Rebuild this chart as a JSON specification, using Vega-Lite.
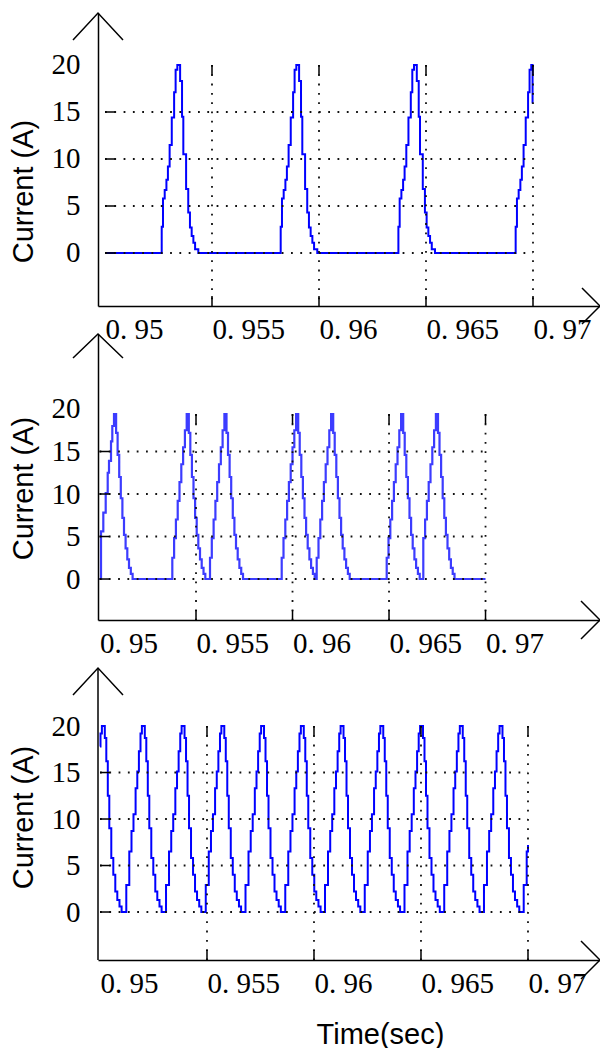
{
"background": "white",
"padding": {"left": 9, "top": 10, "right": 0, "bottom": 0},
"bounds": "flush",
"spacing": 28,
"config": {"view": {"stroke": null}},
"datasets": {
"p1": [
{"t":0.95,"i":0},
{"t":0.95265,"i":2.8},{"t":0.95271,"i":5.8},{"t":0.95279,"i":6.7},{"t":0.95287,"i":7.8},{"t":0.95294,"i":9.2},{"t":0.95302,"i":11.5},{"t":0.95312,"i":14.4},{"t":0.95323,"i":17.1},{"t":0.95330,"i":19.5},{"t":0.95338,"i":20},{"t":0.95351,"i":18.3},{"t":0.95360,"i":14.5},{"t":0.95366,"i":10.5},{"t":0.95379,"i":6.8},{"t":0.95389,"i":4.3},{"t":0.95397,"i":2.7},{"t":0.95405,"i":1.8},{"t":0.95413,"i":1.1},{"t":0.95421,"i":0.4},{"t":0.95436,"i":0},
{"t":0.95821,"i":2.8},{"t":0.95827,"i":5.8},{"t":0.95835,"i":6.7},{"t":0.95843,"i":7.8},{"t":0.95850,"i":9.2},{"t":0.95858,"i":11.5},{"t":0.95868,"i":14.4},{"t":0.95879,"i":17.1},{"t":0.95886,"i":19.5},{"t":0.95894,"i":20},{"t":0.95907,"i":18.3},{"t":0.95916,"i":14.5},{"t":0.95922,"i":10.5},{"t":0.95935,"i":6.8},{"t":0.95945,"i":4.3},{"t":0.95953,"i":2.7},{"t":0.95961,"i":1.8},{"t":0.95969,"i":1.1},{"t":0.95977,"i":0.4},{"t":0.95992,"i":0},
{"t":0.96371,"i":2.8},{"t":0.96377,"i":5.8},{"t":0.96385,"i":6.7},{"t":0.96393,"i":7.8},{"t":0.96400,"i":9.2},{"t":0.96408,"i":11.5},{"t":0.96418,"i":14.4},{"t":0.96429,"i":17.1},{"t":0.96436,"i":19.5},{"t":0.96444,"i":20},{"t":0.96457,"i":18.3},{"t":0.96466,"i":14.5},{"t":0.96472,"i":10.5},{"t":0.96485,"i":6.8},{"t":0.96495,"i":4.3},{"t":0.96503,"i":2.7},{"t":0.96511,"i":1.8},{"t":0.96519,"i":1.1},{"t":0.96527,"i":0.4},{"t":0.96542,"i":0},
{"t":0.96919,"i":2.8},{"t":0.96925,"i":5.8},{"t":0.96933,"i":6.7},{"t":0.96941,"i":7.8},{"t":0.96948,"i":9.2},{"t":0.96956,"i":11.5},{"t":0.96966,"i":14.4},{"t":0.96977,"i":17.1},{"t":0.96984,"i":19.5},{"t":0.96992,"i":20},{"t":0.96998,"i":16},{"t":0.97,"i":16}
],
"p2": [
{"t":0.95,"i":0},
{"t":0.950078,"i":5.6},{"t":0.950197,"i":7.8},{"t":0.950321,"i":10.1},{"t":0.950425,"i":12.5},{"t":0.950492,"i":13.9},{"t":0.950596,"i":16.2},{"t":0.950663,"i":18},{"t":0.950751,"i":19.4},{"t":0.950860,"i":17.2},{"t":0.950938,"i":14.6},{"t":0.951021,"i":12.0},{"t":0.951103,"i":9.5},{"t":0.951186,"i":7.2},{"t":0.951269,"i":5.2},{"t":0.951352,"i":3.6},{"t":0.951440,"i":2.3},{"t":0.951528,"i":1.3},{"t":0.951622,"i":0.6},{"t":0.951715,"i":0},
{"t":0.953772,"i":2.5},{"t":0.953865,"i":4.8},{"t":0.953959,"i":7.0},{"t":0.954052,"i":9.2},{"t":0.954145,"i":11.4},{"t":0.954238,"i":13.5},{"t":0.954332,"i":15.5},{"t":0.954425,"i":17.5},{"t":0.954518,"i":19.4},{"t":0.954627,"i":17.2},{"t":0.954705,"i":14.6},{"t":0.954788,"i":12.0},{"t":0.954870,"i":9.5},{"t":0.954953,"i":7.2},{"t":0.955036,"i":5.2},{"t":0.955119,"i":3.6},{"t":0.955207,"i":2.3},{"t":0.955295,"i":1.3},{"t":0.955389,"i":0.6},{"t":0.955482,"i":0},
{"t":0.955725,"i":2.5},{"t":0.955818,"i":4.8},{"t":0.955912,"i":7.0},{"t":0.956005,"i":9.2},{"t":0.956098,"i":11.4},{"t":0.956191,"i":13.5},{"t":0.956285,"i":15.5},{"t":0.956378,"i":17.5},{"t":0.956471,"i":19.4},{"t":0.956580,"i":17.2},{"t":0.956658,"i":14.6},{"t":0.956741,"i":12.0},{"t":0.956823,"i":9.5},{"t":0.956906,"i":7.2},{"t":0.956989,"i":5.2},{"t":0.957072,"i":3.6},{"t":0.957160,"i":2.3},{"t":0.957248,"i":1.3},{"t":0.957342,"i":0.6},{"t":0.957435,"i":0},
{"t":0.959440,"i":2.5},{"t":0.959533,"i":4.8},{"t":0.959627,"i":7.0},{"t":0.959720,"i":9.2},{"t":0.959813,"i":11.4},{"t":0.959906,"i":13.5},{"t":0.960000,"i":15.5},{"t":0.960093,"i":17.5},{"t":0.960186,"i":19.4},{"t":0.960295,"i":17.2},{"t":0.960373,"i":14.6},{"t":0.960456,"i":12.0},{"t":0.960538,"i":9.5},{"t":0.960621,"i":7.2},{"t":0.960704,"i":5.2},{"t":0.960787,"i":3.6},{"t":0.960875,"i":2.3},{"t":0.960963,"i":1.3},{"t":0.961057,"i":0.6},{"t":0.961150,"i":0},
{"t":0.961253,"i":2.5},{"t":0.961346,"i":4.8},{"t":0.961440,"i":7.0},{"t":0.961533,"i":9.2},{"t":0.961626,"i":11.4},{"t":0.961719,"i":13.5},{"t":0.961813,"i":15.5},{"t":0.961906,"i":17.5},{"t":0.961999,"i":19.4},{"t":0.962108,"i":17.2},{"t":0.962186,"i":14.6},{"t":0.962269,"i":12.0},{"t":0.962351,"i":9.5},{"t":0.962434,"i":7.2},{"t":0.962517,"i":5.2},{"t":0.962600,"i":3.6},{"t":0.962688,"i":2.3},{"t":0.962776,"i":1.3},{"t":0.962870,"i":0.6},{"t":0.962963,"i":0},
{"t":0.964880,"i":2.5},{"t":0.964973,"i":4.8},{"t":0.965067,"i":7.0},{"t":0.965160,"i":9.2},{"t":0.965253,"i":11.4},{"t":0.965346,"i":13.5},{"t":0.965440,"i":15.5},{"t":0.965533,"i":17.5},{"t":0.965626,"i":19.4},{"t":0.965735,"i":17.2},{"t":0.965813,"i":14.6},{"t":0.965896,"i":12.0},{"t":0.965978,"i":9.5},{"t":0.966061,"i":7.2},{"t":0.966144,"i":5.2},{"t":0.966227,"i":3.6},{"t":0.966315,"i":2.3},{"t":0.966403,"i":1.3},{"t":0.966497,"i":0.6},{"t":0.966590,"i":0},
{"t":0.966776,"i":4.8},{"t":0.966870,"i":7.0},{"t":0.966963,"i":9.2},{"t":0.967056,"i":11.4},{"t":0.967149,"i":13.5},{"t":0.967243,"i":15.5},{"t":0.967336,"i":17.5},{"t":0.967429,"i":19.4},{"t":0.967538,"i":17.2},{"t":0.967616,"i":14.6},{"t":0.967699,"i":12.0},{"t":0.967781,"i":9.5},{"t":0.967864,"i":7.2},{"t":0.967947,"i":5.2},{"t":0.968030,"i":3.6},{"t":0.968118,"i":2.3},{"t":0.968206,"i":1.3},{"t":0.968300,"i":0.6},{"t":0.968393,"i":0},
{"t":0.97,"i":0}
],
"p3": [
{"t":0.95,"i":17.8},{"t":0.950024,"i":19.2},{"t":0.950089,"i":20},{"t":0.950225,"i":18.7},{"t":0.950295,"i":16.2},{"t":0.950365,"i":12.5},{"t":0.950435,"i":9.0},{"t":0.950528,"i":5.8},{"t":0.950622,"i":4.0},{"t":0.950715,"i":2.2},{"t":0.950809,"i":1.3},{"t":0.950911,"i":0.6},{"t":0.951010,"i":0},
{"t":0.951229,"i":2.9},{"t":0.951369,"i":6.5},{"t":0.951472,"i":8.7},{"t":0.951565,"i":10.5},{"t":0.951664,"i":13.3},{"t":0.951743,"i":15.1},{"t":0.951818,"i":17.3},{"t":0.951893,"i":19.2},{"t":0.951958,"i":20},{"t":0.952094,"i":18.7},{"t":0.952164,"i":16.2},{"t":0.952234,"i":12.5},{"t":0.952304,"i":9.0},{"t":0.952397,"i":5.8},{"t":0.952491,"i":4.0},{"t":0.952584,"i":2.2},{"t":0.952678,"i":1.3},{"t":0.952780,"i":0.6},{"t":0.952879,"i":0},
{"t":0.953086,"i":2.9},{"t":0.953226,"i":6.5},{"t":0.953329,"i":8.7},{"t":0.953422,"i":10.5},{"t":0.953521,"i":13.3},{"t":0.953600,"i":15.1},{"t":0.953675,"i":17.3},{"t":0.953750,"i":19.2},{"t":0.953815,"i":20},{"t":0.953951,"i":18.7},{"t":0.954021,"i":16.2},{"t":0.954091,"i":12.5},{"t":0.954161,"i":9.0},{"t":0.954254,"i":5.8},{"t":0.954348,"i":4.0},{"t":0.954441,"i":2.2},{"t":0.954535,"i":1.3},{"t":0.954637,"i":0.6},{"t":0.954736,"i":0},
{"t":0.954943,"i":2.9},{"t":0.955083,"i":6.5},{"t":0.955186,"i":8.7},{"t":0.955279,"i":10.5},{"t":0.955378,"i":13.3},{"t":0.955457,"i":15.1},{"t":0.955532,"i":17.3},{"t":0.955607,"i":19.2},{"t":0.955672,"i":20},{"t":0.955808,"i":18.7},{"t":0.955878,"i":16.2},{"t":0.955948,"i":12.5},{"t":0.956018,"i":9.0},{"t":0.956111,"i":5.8},{"t":0.956205,"i":4.0},{"t":0.956298,"i":2.2},{"t":0.956392,"i":1.3},{"t":0.956494,"i":0.6},{"t":0.956593,"i":0},
{"t":0.956800,"i":2.9},{"t":0.956940,"i":6.5},{"t":0.957043,"i":8.7},{"t":0.957136,"i":10.5},{"t":0.957235,"i":13.3},{"t":0.957314,"i":15.1},{"t":0.957389,"i":17.3},{"t":0.957464,"i":19.2},{"t":0.957529,"i":20},{"t":0.957665,"i":18.7},{"t":0.957735,"i":16.2},{"t":0.957805,"i":12.5},{"t":0.957875,"i":9.0},{"t":0.957968,"i":5.8},{"t":0.958062,"i":4.0},{"t":0.958155,"i":2.2},{"t":0.958249,"i":1.3},{"t":0.958351,"i":0.6},{"t":0.958450,"i":0},
{"t":0.958658,"i":2.9},{"t":0.958798,"i":6.5},{"t":0.958901,"i":8.7},{"t":0.958994,"i":10.5},{"t":0.959093,"i":13.3},{"t":0.959172,"i":15.1},{"t":0.959247,"i":17.3},{"t":0.959322,"i":19.2},{"t":0.959387,"i":20},{"t":0.959523,"i":18.7},{"t":0.959593,"i":16.2},{"t":0.959663,"i":12.5},{"t":0.959733,"i":9.0},{"t":0.959826,"i":5.8},{"t":0.959920,"i":4.0},{"t":0.960013,"i":2.2},{"t":0.960107,"i":1.3},{"t":0.960209,"i":0.6},{"t":0.960308,"i":0},
{"t":0.960515,"i":2.9},{"t":0.960655,"i":6.5},{"t":0.960758,"i":8.7},{"t":0.960851,"i":10.5},{"t":0.960950,"i":13.3},{"t":0.961029,"i":15.1},{"t":0.961104,"i":17.3},{"t":0.961179,"i":19.2},{"t":0.961244,"i":20},{"t":0.961380,"i":18.7},{"t":0.961450,"i":16.2},{"t":0.961520,"i":12.5},{"t":0.961590,"i":9.0},{"t":0.961683,"i":5.8},{"t":0.961777,"i":4.0},{"t":0.961870,"i":2.2},{"t":0.961964,"i":1.3},{"t":0.962066,"i":0.6},{"t":0.962165,"i":0},
{"t":0.962372,"i":2.9},{"t":0.962512,"i":6.5},{"t":0.962615,"i":8.7},{"t":0.962708,"i":10.5},{"t":0.962807,"i":13.3},{"t":0.962886,"i":15.1},{"t":0.962961,"i":17.3},{"t":0.963036,"i":19.2},{"t":0.963101,"i":20},{"t":0.963237,"i":18.7},{"t":0.963307,"i":16.2},{"t":0.963377,"i":12.5},{"t":0.963447,"i":9.0},{"t":0.963540,"i":5.8},{"t":0.963634,"i":4.0},{"t":0.963727,"i":2.2},{"t":0.963821,"i":1.3},{"t":0.963923,"i":0.6},{"t":0.964022,"i":0},
{"t":0.964229,"i":2.9},{"t":0.964369,"i":6.5},{"t":0.964472,"i":8.7},{"t":0.964565,"i":10.5},{"t":0.964664,"i":13.3},{"t":0.964743,"i":15.1},{"t":0.964818,"i":17.3},{"t":0.964893,"i":19.2},{"t":0.964958,"i":20},{"t":0.965094,"i":18.7},{"t":0.965164,"i":16.2},{"t":0.965234,"i":12.5},{"t":0.965304,"i":9.0},{"t":0.965397,"i":5.8},{"t":0.965491,"i":4.0},{"t":0.965584,"i":2.2},{"t":0.965678,"i":1.3},{"t":0.965780,"i":0.6},{"t":0.965879,"i":0},
{"t":0.966086,"i":2.9},{"t":0.966226,"i":6.5},{"t":0.966329,"i":8.7},{"t":0.966422,"i":10.5},{"t":0.966521,"i":13.3},{"t":0.966600,"i":15.1},{"t":0.966675,"i":17.3},{"t":0.966750,"i":19.2},{"t":0.966815,"i":20},{"t":0.966951,"i":18.7},{"t":0.967021,"i":16.2},{"t":0.967091,"i":12.5},{"t":0.967161,"i":9.0},{"t":0.967254,"i":5.8},{"t":0.967348,"i":4.0},{"t":0.967441,"i":2.2},{"t":0.967535,"i":1.3},{"t":0.967637,"i":0.6},{"t":0.967736,"i":0},
{"t":0.967943,"i":2.9},{"t":0.968083,"i":6.5},{"t":0.968186,"i":8.7},{"t":0.968279,"i":10.5},{"t":0.968378,"i":13.3},{"t":0.968457,"i":15.1},{"t":0.968532,"i":17.3},{"t":0.968607,"i":19.2},{"t":0.968672,"i":20},{"t":0.968808,"i":18.7},{"t":0.968878,"i":16.2},{"t":0.968948,"i":12.5},{"t":0.969018,"i":9.0},{"t":0.969111,"i":5.8},{"t":0.969205,"i":4.0},{"t":0.969298,"i":2.2},{"t":0.969392,"i":1.3},{"t":0.969494,"i":0.6},{"t":0.969593,"i":0},
{"t":0.969800,"i":2.9},{"t":0.969940,"i":6.5},{"t":0.97,"i":7.2}
],
"hg": [{"g":0},{"g":5},{"g":10},{"g":15}],
"vg": [{"g":0.955},{"g":0.96},{"g":0.965},{"g":0.97}],
"one": [{}]
},
"vconcat": [
{
"width": 502, "height": 293,
"layer": [
{"data":{"name":"p1"},"mark":{"type":"line","interpolate":"step-after","color":"#0000ff","strokeWidth":2},
 "encoding":{
 "x":{"field":"t","type":"quantitative","scale":{"domain":[0.949673,0.973131],"nice":false,"zero":false},
  "axis":{"values":[0.95,0.955,0.96,0.965,0.97],"title":null,"grid":false,"ticks":false,"domainColor":"black","domainWidth":1.5,
   "labelFont":"Liberation Serif","labelFontSize":29,"labelColor":"black","labelAlign":"left","labelBaseline":"top","labelPadding":9,
   "labelFlush":false,"labelOverlap":false,"labelBound":false,"labelExpr":"replace(toString(datum.value), '.', '. ')",
   "encode":{"labels":{"update":{"dx":{"signal":"datum.value==0.95?-3:datum.value==0.955?-10:datum.value==0.96?6:datum.value==0.965?-16:-13"}}}}}},
 "y":{"field":"i","type":"quantitative","scale":{"domain":[-5.64,25.53],"nice":false,"zero":false},
  "axis":{"values":[0,5,10,15,20],"title":"Current (A)","titleFont":"Liberation Sans","titleFontSize":29,"titleFontWeight":"normal","titleColor":"black",
   "titleX":-66,"titleY":178,"titleBaseline":"alphabetic","titleAlign":"center","titleAngle":270,
   "grid":false,"ticks":false,"domainColor":"black","domainWidth":1.5,
   "labelFont":"Liberation Serif","labelFontSize":29,"labelColor":"black","labelPadding":18,"labelBaseline":"middle","labelOverlap":false,"labelFlush":false,
   "encode":{"labels":{"update":{"dy":{"signal":"datum.value==20?7:3"}}}}}}}},
{"data":{"name":"hg"},"mark":{"type":"rule","color":"#111","strokeWidth":1.8,"strokeDash":[1.8,7.5]},
 "encoding":{"y":{"field":"g","type":"quantitative"},"x":{"datum":0.95,"type":"quantitative"},"x2":{"datum":0.97}}},
{"data":{"name":"vg"},"mark":{"type":"rule","color":"#111","strokeWidth":1.8,"strokeDash":[1.8,7.5]},
 "encoding":{"x":{"field":"g","type":"quantitative"},"y":{"datum":20,"type":"quantitative"},"y2":{"datum":-5.64}}},
{"data":{"name":"hg"},"mark":{"type":"tick","orient":"horizontal","size":10,"thickness":1.5,"color":"black","xOffset":5,"opacity":1},
 "encoding":{"y":{"field":"g","type":"quantitative"},"x":{"datum":0.95,"type":"quantitative"}}},
{"data":{"name":"vg"},"mark":{"type":"tick","orient":"vertical","size":10,"thickness":1.5,"color":"black","yOffset":5,"opacity":1},
 "encoding":{"x":{"field":"g","type":"quantitative"},"y":{"datum":20,"type":"quantitative"}}},
{"data":{"name":"vg"},"mark":{"type":"tick","orient":"vertical","size":10,"thickness":1.5,"color":"black","yOffset":-5,"opacity":1},
 "encoding":{"x":{"field":"g","type":"quantitative"},"y":{"datum":-5.64,"type":"quantitative"}}},
{"data":{"name":"one"},"mark":{"type":"point","shape":"M-1,1.08L0,0L1,1.08","size":2500,"filled":false,"color":"black","strokeWidth":1.5,"opacity":1},
 "encoding":{"x":{"datum":0.949673,"type":"quantitative"},"y":{"datum":25.53,"type":"quantitative"}}},
{"data":{"name":"one"},"mark":{"type":"point","shape":"M-1,-1L0,0L-1,1","size":1296,"filled":false,"color":"black","strokeWidth":1.5,"opacity":1},
 "encoding":{"x":{"datum":0.973131,"type":"quantitative"},"y":{"datum":-5.64,"type":"quantitative"}}}
]
},
{
"width": 502, "height": 286,
"layer": [
{"data":{"name":"p2"},"mark":{"type":"line","interpolate":"step-after","color":"#3c3cff","strokeWidth":2.2},
 "encoding":{
 "x":{"field":"t","type":"quantitative","scale":{"domain":[0.949922,0.975931],"nice":false,"zero":false},
  "axis":{"values":[0.95,0.955,0.96,0.965,0.97],"title":null,"grid":false,"ticks":false,"domainColor":"black","domainWidth":1.5,
   "labelFont":"Liberation Serif","labelFontSize":29,"labelColor":"black","labelAlign":"left","labelBaseline":"top","labelPadding":9,
   "labelFlush":false,"labelOverlap":false,"labelBound":false,"labelExpr":"replace(toString(datum.value), '.', '. ')",
   "encode":{"labels":{"update":{"dx":{"signal":"datum.value==0.95?-2:datum.value==0.955?1:datum.value==0.96?27:datum.value==0.965?16:30"}}}}}},
 "y":{"field":"i","type":"quantitative","scale":{"domain":[-4.82,28.82],"nice":false,"zero":false},
  "axis":{"values":[0,5,10,15,20],"title":"Current (A)","titleFont":"Liberation Sans","titleFontSize":29,"titleFontWeight":"normal","titleColor":"black",
   "titleX":-66,"titleY":154,"titleBaseline":"alphabetic","titleAlign":"center","titleAngle":270,
   "grid":false,"ticks":false,"domainColor":"black","domainWidth":1.5,
   "labelFont":"Liberation Serif","labelFontSize":29,"labelColor":"black","labelPadding":18,"labelBaseline":"middle","labelOverlap":false,"labelFlush":false,
   "encode":{"labels":{"update":{"dy":{"signal":"datum.value==20?4:3"}}}}}}}},
{"data":{"name":"hg"},"mark":{"type":"rule","color":"#111","strokeWidth":1.8,"strokeDash":[1.8,7.5]},
 "encoding":{"y":{"field":"g","type":"quantitative"},"x":{"datum":0.95,"type":"quantitative"},"x2":{"datum":0.97}}},
{"data":{"name":"vg"},"mark":{"type":"rule","color":"#111","strokeWidth":1.8,"strokeDash":[1.8,7.5]},
 "encoding":{"x":{"field":"g","type":"quantitative"},"y":{"datum":19.4,"type":"quantitative"},"y2":{"datum":-4.82}}},
{"data":{"name":"hg"},"mark":{"type":"tick","orient":"horizontal","size":10,"thickness":1.5,"color":"black","xOffset":5,"opacity":1},
 "encoding":{"y":{"field":"g","type":"quantitative"},"x":{"datum":0.95,"type":"quantitative"}}},
{"data":{"name":"vg"},"mark":{"type":"tick","orient":"vertical","size":10,"thickness":1.5,"color":"black","yOffset":5,"opacity":1},
 "encoding":{"x":{"field":"g","type":"quantitative"},"y":{"datum":19.4,"type":"quantitative"}}},
{"data":{"name":"vg"},"mark":{"type":"tick","orient":"vertical","size":10,"thickness":1.5,"color":"black","yOffset":-5,"opacity":1},
 "encoding":{"x":{"field":"g","type":"quantitative"},"y":{"datum":-4.82,"type":"quantitative"}}},
{"data":{"name":"one"},"mark":{"type":"point","shape":"M-1,0.96L0,0L1,0.96","size":2500,"filled":false,"color":"black","strokeWidth":1.5,"opacity":1},
 "encoding":{"x":{"datum":0.949922,"type":"quantitative"},"y":{"datum":28.82,"type":"quantitative"}}},
{"data":{"name":"one"},"mark":{"type":"point","shape":"M-1,-1L0,0L-1,1","size":1444,"filled":false,"color":"black","strokeWidth":1.5,"opacity":1},
 "encoding":{"x":{"datum":0.975931,"type":"quantitative"},"y":{"datum":-4.82,"type":"quantitative"}}}
]
},
{
"width": 502, "height": 312,
"layer": [
{"data":{"name":"p3"},"mark":{"type":"line","interpolate":"step-after","color":"#0000ff","strokeWidth":2},
 "encoding":{
 "x":{"field":"t","type":"quantitative","scale":{"domain":[0.949907,0.973365],"nice":false,"zero":false},
  "axis":{"values":[0.95,0.955,0.96,0.965,0.97],"title":"Time(sec)","titleFont":"Liberation Sans","titleFontSize":29,"titleFontWeight":"normal","titleColor":"black",
   "titleX":282,"titleY":83,"titleBaseline":"alphabetic","titleAlign":"center",
   "grid":false,"ticks":false,"domainColor":"black","domainWidth":1.5,
   "labelFont":"Liberation Serif","labelFontSize":29,"labelColor":"black","labelAlign":"left","labelBaseline":"top","labelPadding":9,
   "labelFlush":false,"labelOverlap":false,"labelBound":false,"labelExpr":"replace(toString(datum.value), '.', '. ')",
   "encode":{"labels":{"update":{"dx":{"signal":"datum.value==0.95?-2:datum.value==0.955?-10:datum.value==0.96?5:datum.value==0.965?-17:-13"}}}}}},
 "y":{"field":"i","type":"quantitative","scale":{"domain":[-5.16,28.39],"nice":false,"zero":false},
  "axis":{"values":[0,5,10,15,20],"title":"Current (A)","titleFont":"Liberation Sans","titleFontSize":29,"titleFontWeight":"normal","titleColor":"black",
   "titleX":-66,"titleY":169,"titleBaseline":"alphabetic","titleAlign":"center","titleAngle":270,
   "grid":false,"ticks":false,"domain":false,
   "labelFont":"Liberation Serif","labelFontSize":29,"labelColor":"black","labelPadding":18,"labelBaseline":"middle","labelOverlap":false,"labelFlush":false,
   "encode":{"labels":{"update":{"dy":{"signal":"datum.value==20?5:3"}}}}}}}},
{"data":{"name":"hg"},"mark":{"type":"rule","color":"#111","strokeWidth":1.8,"strokeDash":[1.8,7.5]},
 "encoding":{"y":{"field":"g","type":"quantitative"},"x":{"datum":0.95,"type":"quantitative"},"x2":{"datum":0.97}}},
{"data":{"name":"vg"},"mark":{"type":"rule","color":"#111","strokeWidth":1.8,"strokeDash":[1.8,7.5]},
 "encoding":{"x":{"field":"g","type":"quantitative"},"y":{"datum":20,"type":"quantitative"},"y2":{"datum":-5.16}}},
{"data":{"name":"hg"},"mark":{"type":"tick","orient":"horizontal","size":10,"thickness":1.5,"color":"black","xOffset":5,"opacity":1},
 "encoding":{"y":{"field":"g","type":"quantitative"},"x":{"datum":0.95,"type":"quantitative"}}},
{"data":{"name":"vg"},"mark":{"type":"tick","orient":"vertical","size":10,"thickness":1.5,"color":"black","yOffset":5,"opacity":1},
 "encoding":{"x":{"field":"g","type":"quantitative"},"y":{"datum":20,"type":"quantitative"}}},
{"data":{"name":"vg"},"mark":{"type":"tick","orient":"vertical","size":10,"thickness":1.5,"color":"black","yOffset":-5,"opacity":1},
 "encoding":{"x":{"field":"g","type":"quantitative"},"y":{"datum":-5.16,"type":"quantitative"}}},
{"data":{"name":"one"},"mark":{"type":"rule","color":"black","strokeWidth":1.5},
 "encoding":{"x":{"datum":0.949907,"type":"quantitative"},"y":{"datum":-5.16,"type":"quantitative"},"y2":{"datum":26.24}}},
{"data":{"name":"one"},"mark":{"type":"point","shape":"M-1,1.08L0,0L1,1.08","size":2500,"filled":false,"color":"black","strokeWidth":1.5,"opacity":1},
 "encoding":{"x":{"datum":0.949907,"type":"quantitative"},"y":{"datum":26.24,"type":"quantitative"}}},
{"data":{"name":"one"},"mark":{"type":"point","shape":"M-1,-1L0,0L-1,1","size":1444,"filled":false,"color":"black","strokeWidth":1.5,"opacity":1},
 "encoding":{"x":{"datum":0.973365,"type":"quantitative"},"y":{"datum":-5.16,"type":"quantitative"}}}
]
}
]
}
